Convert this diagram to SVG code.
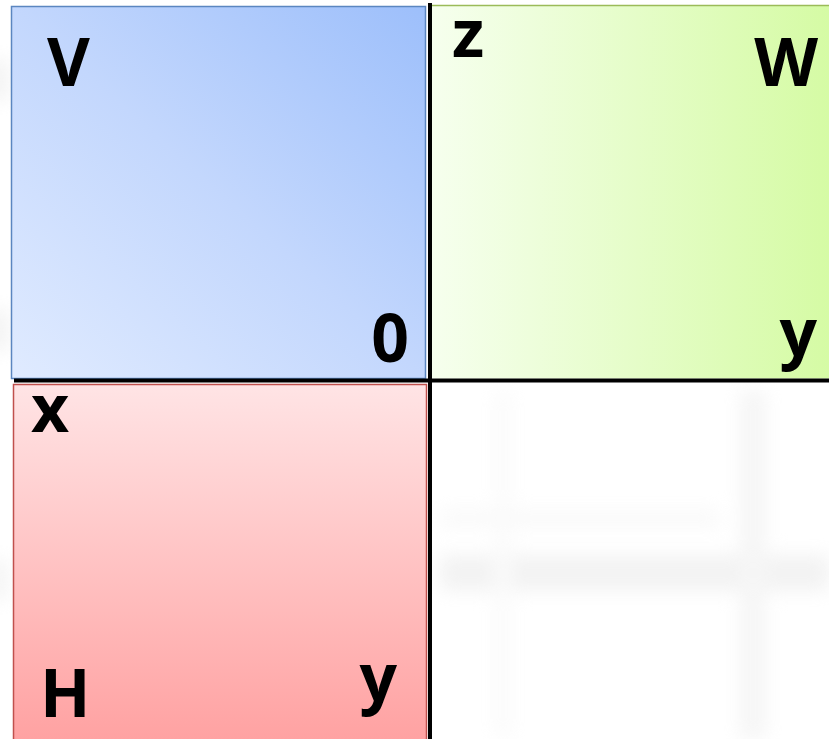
<svg xmlns="http://www.w3.org/2000/svg" width="829" height="739" viewBox="0 0 829 739">
<defs>
<linearGradient id="gBlue" x1="0" y1="1" x2="1" y2="0">
<stop offset="0" stop-color="#e0ebff"/>
<stop offset="0.5" stop-color="#c3d7fd"/>
<stop offset="1" stop-color="#9dbffb"/>
</linearGradient>
<linearGradient id="gGreen" x1="0" y1="0" x2="1" y2="0">
<stop offset="0" stop-color="#f6ffee"/>
<stop offset="1" stop-color="#d5fba4"/>
</linearGradient>
<linearGradient id="gRed" x1="0" y1="0" x2="0" y2="1">
<stop offset="0" stop-color="#ffe4e5"/>
<stop offset="1" stop-color="#ffa1a1"/>
</linearGradient>
<filter id="blur" x="-20%" y="-20%" width="140%" height="140%">
<feGaussianBlur stdDeviation="9"/>
</filter>
</defs>
<style>
.lbl{font-family:"Open Sans",Lato,"Liberation Sans",sans-serif;font-weight:700;font-size:66px;fill:#000}
.edge{stroke:#000;stroke-width:4;fill:none}
</style>
<rect width="829" height="739" fill="#fff"/>
<g id="background" filter="url(#blur)" opacity="0.4">
<rect x="440" y="555" width="389" height="36" fill="#e0e0e0"/>
<rect x="440" y="510" width="280" height="16" fill="#f0f0f0"/>
<rect x="740" y="390" width="26" height="349" fill="#e8e8e8"/>
<rect x="495" y="390" width="16" height="349" fill="#f4f4f4"/>
<rect x="-10" y="60" width="18" height="40" fill="#dddddd"/>
<rect x="-10" y="310" width="18" height="40" fill="#dddddd"/>
<rect x="-10" y="560" width="18" height="40" fill="#e3e3e3"/>
</g>
<g id="nodeBlue">
<rect x="11.5" y="6.5" width="414" height="372" fill="url(#gBlue)" stroke="#5b86c0" stroke-width="1.5"/>
<text class="lbl" x="47" y="86">V</text>
<text class="lbl" x="409" y="362" text-anchor="end">0</text>
</g>
<g id="nodeGreen">
<rect x="432" y="5.5" width="400" height="373" fill="url(#gGreen)"/>
<line x1="432" y1="5.5" x2="829" y2="5.5" stroke="#9bbb59" stroke-width="1.5"/>
<text class="lbl" x="452" y="57">z</text>
<text class="lbl" x="818" y="86" text-anchor="end">W</text>
<text class="lbl" x="817" y="356" text-anchor="end">y</text>
</g>
<g id="nodeRed">
<rect x="13.5" y="384.5" width="413" height="360" fill="url(#gRed)" stroke="#c0504d" stroke-width="1.5"/>
<text class="lbl" x="31" y="432">x</text>
<text class="lbl" x="40" y="717">H</text>
<text class="lbl" x="397" y="701" text-anchor="end">y</text>
</g>
<g id="connectors">
<line class="edge" x1="430" y1="3" x2="430" y2="739"/>
<line class="edge" x1="14" y1="380.5" x2="829" y2="380.5"/>
</g>
</svg>
